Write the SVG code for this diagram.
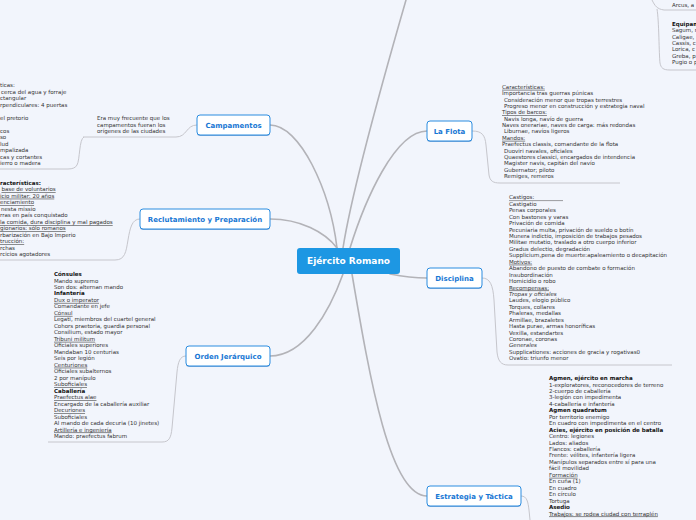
<svg xmlns="http://www.w3.org/2000/svg" width="696" height="520" viewBox="0 0 696 520">
<style>
.bg{fill:#f2f5fc}
.main{fill:none;stroke:#b3b3b8;stroke-width:1.6;stroke-linecap:round}
.sub{fill:none;stroke:#c6c6cc;stroke-width:1}
.ul{stroke:#444;stroke-width:0.5}
.t{font-family:"DejaVu Sans",Verdana,sans-serif;font-size:5.5px;fill:#333}
.b{font-weight:bold;fill:#111}
.u{text-decoration:underline}
.i{font-style:italic}
.box{fill:#fff;stroke:#2a8ce0;stroke-width:1}
.shadow{fill:#8fb1d8}
.lbl{font-family:"DejaVu Sans",Verdana,sans-serif;font-size:7px;font-weight:bold;fill:#1877d4;text-anchor:middle}
.center{fill:#1d97e3}
.clbl{font-family:"DejaVu Sans",Verdana,sans-serif;font-size:9px;font-weight:bold;fill:#fff;text-anchor:middle}
</style>
<rect class="bg" x="0" y="0" width="696" height="520"/>

<g id="connectors">
  <path class="main" d="M270,125 C300,125 330,190 337,248"/>
  <path class="main" d="M270,219 C300,219 325,232 337,248"/>
  <path class="main" d="M343,248 C352,190 380,90 406,0"/>
  <path class="main" d="M350,248 C365,200 395,131 427,131"/>
  <path class="main" d="M343,274 C330,310 305,356 270,356"/>
  <path class="main" d="M390,274 C405,277 415,278 427,278"/>
  <path class="main" d="M352,274 C370,380 390,496 427,496"/>
  <path class="sub" d="M197,125 C186,125 187,137 176,137 L83,137"/>
  <path class="sub" d="M84,137 C79,139 80,160 77,165 Q75,169 68,169 L0,169"/>
  <path class="sub" d="M140,219 C132,219 130,228 128,240 C126,252 125,260 115,260 L0,260"/>
  <path class="sub" d="M186,356 C180,356 178,362 177,372 L172,428 C171,438 169,442 162,442 L48,442"/>
  <path class="sub" d="M472,131 C482,131 485,135 486,145 L489,175 C490,181 493,183 500,183 L620,183"/>
  <path class="sub" d="M482,278 C490,278 493,285 494,300 L497,352 C498,361 501,365 508,365 L672,365"/>
  <path class="sub" d="M521,496 C527,496 528,502 529,510 L530,520"/>
  <path class="sub" d="M652,0 C655,6 657,9 664,10 L696,10"/>
  <path class="sub" d="M657,9 C659,20 659,55 660,63 C661,68 663,70 670,70 L696,70"/>
</g>

<g id="center">
  <rect class="center" x="297" y="248" width="103" height="26" rx="3"/>
  <text class="clbl" x="348.5" y="264.3">Ejército Romano</text>
</g>

<g id="campamentos">
  <rect class="shadow" x="197" y="116" width="73" height="20" rx="3"/>
  <rect class="box" x="197" y="115" width="73" height="20" rx="3"/>
  <text class="lbl" x="233.5" y="127.5">Campamentos</text>
</g>
<g id="campamentos-nota">
  <text class="t" x="97" y="119.7">Era muy frecuente que los</text>
  <text class="t" x="97" y="126.5">campamentos fueran los</text>
  <text class="t" x="97" y="133.3">orígenes de las ciudades</text>
</g>
<g id="campamentos-caracteristicas">
  <text class="t" x="0" y="87">ticas:</text>
  <text class="t" x="1" y="93.5">cerca del agua y forraje</text>
  <text class="t" x="0" y="100">ctangular</text>
  <text class="t" x="0" y="106.5">rpendiculares: 4 puertas</text>
  <text class="t" x="0" y="120">el pretorio</text>
  <text class="t" x="0" y="133">cos</text>
  <text class="t" x="0" y="139">so</text>
  <text class="t" x="0" y="145.5">lud</text>
  <text class="t" x="0" y="152">mpalizada</text>
  <text class="t" x="0" y="158.5">cas y cortantes</text>
  <text class="t" x="0" y="165">ierro o madera</text>
</g>

<g id="reclutamiento">
  <rect class="shadow" x="140" y="210" width="130" height="20" rx="3"/>
  <rect class="box" x="140" y="209" width="130" height="20" rx="3"/>
  <text class="lbl" x="205" y="221.5">Reclutamiento y Preparación</text>
</g>
<g id="reclutamiento-texto">
  <text class="t b" x="0" y="185.3">racterísticas:</text>
  <text class="t u" x="1.5" y="191">base de voluntarios</text>
  <text class="t u" x="0" y="197.7">icio militar: 20 años</text>
  <text class="t u" x="0" y="204.3">enciamiento</text>
  <text class="t" x="1" y="210.7">nesta missio</text>
  <text class="t" x="0" y="217">rras en país conquistado</text>
  <text class="t u" x="0" y="224">la comida, dura disciplina y mal pagados</text>
  <text class="t u" x="0" y="230.3">gionarios: sólo romanos</text>
  <text class="t" x="0" y="236.7">rbarización en Bajo Imperio</text>
  <text class="t u" x="0" y="243">trucción:</text>
  <text class="t" x="0" y="249.7">rchas</text>
  <text class="t" x="0" y="256">rcicios agotadores</text>
</g>

<g id="orden">
  <rect class="shadow" x="186" y="347" width="84" height="20" rx="3"/>
  <rect class="box" x="186" y="346" width="84" height="20" rx="3"/>
  <text class="lbl" x="228" y="358.5">Orden Jerárquico</text>
</g>
<g id="orden-texto">
  <text class="t b" x="54" y="276">Cónsules</text>
  <text class="t" x="54" y="282.5">Mando supremo</text>
  <text class="t" x="54" y="289">Son dos: alternan mando</text>
  <text class="t b" x="54" y="295.4">Infantería</text>
  <text class="t u" x="54" y="301.9">Dux o imperator</text>
  <text class="t" x="54" y="308.4">Comandante en jefe</text>
  <text class="t u" x="54" y="314.9">Cónsul</text>
  <text class="t" x="54" y="321.4">Legati, miembros del cuartel general</text>
  <text class="t" x="54" y="327.8">Cohors praetoria, guardia personal</text>
  <text class="t" x="54" y="334.3">Consilium, estado mayor</text>
  <text class="t u" x="54" y="340.8">Tribuni militum</text>
  <text class="t" x="54" y="347.3">Oficiales superiores</text>
  <text class="t" x="54" y="353.8">Mandaban 10 centurias</text>
  <text class="t" x="54" y="360.2">Seis por legión</text>
  <text class="t u" x="54" y="366.7">Centuriones</text>
  <text class="t" x="54" y="373.2">Oficiales subalternos</text>
  <text class="t" x="54" y="379.7">2 por manípulo</text>
  <text class="t u" x="54" y="386.2">Suboficiales</text>
  <text class="t b" x="54" y="392.6">Caballería</text>
  <text class="t u" x="54" y="399.1">Praefectus alae</text>
  <text class="t" x="54" y="405.6">Encargado de la caballería auxiliar</text>
  <text class="t u" x="54" y="412.1">Decuriones</text>
  <text class="t" x="54" y="418.6">Suboficiales</text>
  <text class="t" x="54" y="425">Al mando de cada decuria (10 jinetes)</text>
  <text class="t u" x="54" y="431.5">Artillería e ingeniería</text>
  <text class="t" x="54" y="438">Mando: praefectus fabrum</text>
</g>

<g id="flota">
  <rect class="shadow" x="427" y="122" width="45" height="20" rx="3"/>
  <rect class="box" x="427" y="121" width="45" height="20" rx="3"/>
  <text class="lbl" x="449.5" y="133.5">La Flota</text>
</g>
<g id="flota-texto">
  <text class="t u" x="502" y="88.8">Características:</text>
  <text class="t" x="502" y="95.2">Importancia tras guerras púnicas</text>
  <text class="t" x="504" y="101.5">Consideración menor que tropas terrestres</text>
  <text class="t" x="504" y="107.9">Progreso menor en construcción y estrategia naval</text>
  <text class="t u" x="502" y="114.3">Tipos de barcos:</text>
  <text class="t" x="504" y="120.7">Navis longa, navío de guerra</text>
  <text class="t" x="502" y="127">Naves onerariae, naves de carga: más redondas</text>
  <text class="t" x="504" y="133.4">Liburnae, navíos ligeros</text>
  <text class="t u" x="502" y="139.8">Mandos:</text>
  <text class="t" x="502" y="146.1">Praefectus classis, comandante de la flota</text>
  <text class="t" x="504" y="152.5">Duoviri navales, oficiales</text>
  <text class="t" x="504" y="158.9">Quaestores classici, encargados de intendencia</text>
  <text class="t" x="504" y="165.2">Magister navis, capitán del navío</text>
  <text class="t" x="504" y="171.6">Gubernator; piloto</text>
  <text class="t" x="504" y="178">Remiges, remeros</text>
</g>

<g id="disciplina">
  <rect class="shadow" x="427" y="269" width="55" height="20" rx="3"/>
  <rect class="box" x="427" y="268" width="55" height="20" rx="3"/>
  <text class="lbl" x="454.5" y="280.5">Disciplina</text>
</g>
<g id="disciplina-texto">
  <text class="t" x="509" y="199.3">Castigos:</text>
  <line class="ul" x1="509" y1="200.6" x2="563" y2="200.6"/>
  <text class="t" x="509" y="205.7">Castigatio</text>
  <text class="t" x="509" y="212.2">Penas corporales</text>
  <text class="t" x="509" y="218.6">Con bastones y varas</text>
  <text class="t" x="509" y="225.1">Privación de comida</text>
  <text class="t" x="509" y="231.5">Pecuniaria multa, privación de sueldo o botín</text>
  <text class="t" x="509" y="237.9">Munera indictio, imposición de trabajos pesados</text>
  <text class="t" x="509" y="244.4">Militae mutatio, traslado a otro cuerpo inferior</text>
  <text class="t" x="509" y="250.8">Gradus delectio, degradación</text>
  <text class="t" x="509" y="257.3">Supplicium,pena de muerte:apaleamiento o decapitación</text>
  <text class="t u" x="509" y="263.7">Motivos:</text>
  <text class="t" x="509" y="270.1">Abandono de puesto de combate o formación</text>
  <text class="t" x="509" y="276.6">Insubordinación</text>
  <text class="t" x="509" y="283">Homicidio o robo</text>
  <text class="t u" x="509" y="289.5">Recompensas:</text>
  <text class="t i" x="509" y="295.9">Tropas y oficiales</text>
  <text class="t" x="509" y="302.3">Laudes, elogio público</text>
  <text class="t" x="509" y="308.8">Torques, collares</text>
  <text class="t" x="509" y="315.2">Phaleras, medallas</text>
  <text class="t" x="509" y="321.7">Armillae, brazaletes</text>
  <text class="t" x="509" y="328.1">Hasta purae, armas honoríficas</text>
  <text class="t" x="509" y="334.5">Vexilla, estandartes</text>
  <text class="t" x="509" y="341">Coronae, coronas</text>
  <text class="t i" x="509" y="347.4">Generales</text>
  <text class="t" x="509" y="353.9">Supplicationes: acciones de gracia y rogativas0</text>
  <text class="t" x="509" y="360.3">Ovatio: triunfo menor</text>
</g>

<g id="estrategia">
  <rect class="shadow" x="427" y="487" width="94" height="20" rx="3"/>
  <rect class="box" x="427" y="486" width="94" height="20" rx="3"/>
  <text class="lbl" x="474" y="498.5">Estrategia y Táctica</text>
</g>
<g id="estrategia-texto">
  <text class="t b" x="549" y="380">Agmen, ejército en marcha</text>
  <text class="t" x="549" y="386.5">1-exploratores, reconocedores de terreno</text>
  <text class="t" x="549" y="392.9">2-cuerpo de caballería</text>
  <text class="t" x="549" y="399.4">3-legión con impedimenta</text>
  <text class="t" x="549" y="405.8">4-caballería e infantería</text>
  <text class="t b" x="549" y="412.3">Agmen quadratum</text>
  <text class="t" x="549" y="418.7">Por territorio enemigo</text>
  <text class="t" x="549" y="425.2">En cuadro con impedimenta en el centro</text>
  <text class="t b" x="549" y="431.6">Acies, ejército en posición de batalla</text>
  <text class="t" x="549" y="438.1">Centro: legiones</text>
  <text class="t" x="549" y="444.5">Lados: aliados</text>
  <text class="t" x="549" y="451">Flancos: caballería</text>
  <text class="t" x="549" y="457.4">Frente: vélites, infantería ligera</text>
  <text class="t" x="549" y="463.9">Manípulos separados entre sí para una</text>
  <text class="t" x="549" y="470.3">fácil movilidad</text>
  <text class="t u" x="549" y="476.8">Formación</text>
  <text class="t" x="549" y="483.2">En cuña (1)</text>
  <text class="t" x="549" y="489.7">En cuadro</text>
  <text class="t" x="549" y="496.1">En círculo</text>
  <text class="t" x="549" y="502.6">Tortuga</text>
  <text class="t b" x="549" y="509">Asedio</text>
  <text class="t u" x="549" y="515.5">Trabajos: se rodea ciudad con terraplén</text>
</g>

<g id="armamento">
  <text class="t" x="672" y="7">Arcus, a</text>
  <text class="t b" x="672" y="26">Equipam</text>
  <text class="t" x="672" y="32">Sagum, m</text>
  <text class="t" x="672" y="39">Caligae,</text>
  <text class="t" x="672" y="45">Cassis, c</text>
  <text class="t" x="672" y="51">Lorica, c</text>
  <text class="t" x="672" y="58">Greba, p</text>
  <text class="t" x="672" y="64">Pugio o p</text>
</g>
</svg>
